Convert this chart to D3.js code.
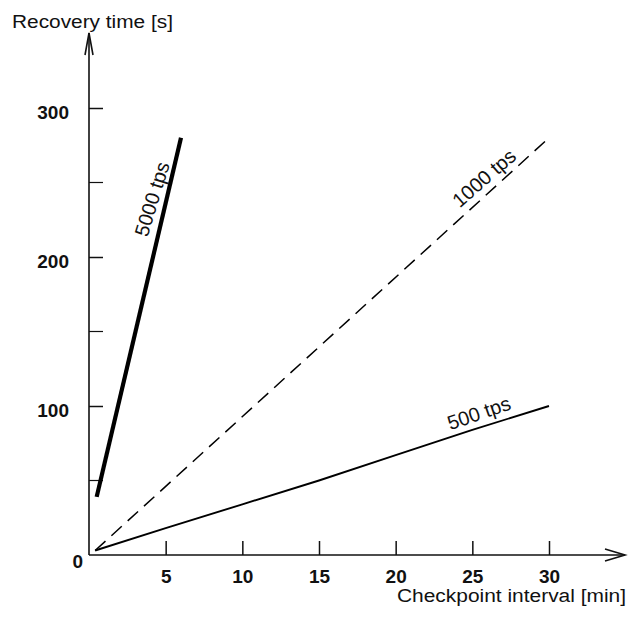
<!DOCTYPE html>
<html>
<head>
<meta charset="utf-8">
<script src="https://cdn.jsdelivr.net/npm/d3@7"></script>
<style>
  body { margin: 0; background: #fff; }
  svg { display: block; font-family: "Liberation Sans", Arial, sans-serif; }
  .tick text { font-weight: bold; fill: #111; font-family: "Liberation Sans", Arial, sans-serif; }
  .xaxis .tick text { font-size: 19px; }
  .yaxis .tick text { font-size: 19px; }
  .tick line { stroke: #111; stroke-width: 1.5; }
</style>
</head>
<body>
<div id="chart"></div>
<script>
// data
var xTickValues = [5, 10, 15, 20, 25, 30];
var yTickValues = [0, 100, 200, 300];
var yMinorTicks = [50, 150, 250];

var tps5000X = [0.5, 6];
var tps5000Y = [39, 280];

var tps1000X = [0.4, 30];
var tps1000Y = [3, 280];

var tps500X = [0.4, 5, 10, 15, 20, 25, 30];
var tps500Y = [3, 18, 34, 50, 67, 84, 100];

var seriesLabels = ["5000 tps", "1000 tps", "500 tps"];

var W = 631, H = 632;
var svg = d3.select("#chart").append("svg")
  .attr("width", W).attr("height", H);

var x = d3.scaleLinear().domain([0, 30]).range([89, 549]);
var y = d3.scaleLinear().domain([0, 300]).range([555, 108]);

// axes ticks (inward)
var xAxis = svg.append("g")
  .attr("class", "xaxis")
  .attr("transform", "translate(0," + y(0) + ")")
  .call(d3.axisBottom(x).tickValues(xTickValues).tickSize(-14).tickPadding(0));
xAxis.select(".domain").remove();
xAxis.selectAll(".tick text").attr("dy", null).attr("y", 28);

var yAxis = svg.append("g")
  .attr("class", "yaxis")
  .attr("transform", "translate(" + x(0) + ",0)")
  .call(d3.axisLeft(y).tickValues(yTickValues).tickSize(-14).tickPadding(20));
yAxis.select(".domain").remove();
yAxis.selectAll(".tick text").attr("dy", "0.55em");
// the "0" sits lower and closer to the axis
yAxis.selectAll(".tick").filter(function (d) { return d === 0; })
  .select("text").attr("x", -6).attr("dy", "0.65em");
yAxis.selectAll(".tick").filter(function (d) { return d === 0; })
  .select("line").remove();

svg.append("g").selectAll("line.minor")
  .data(yMinorTicks).enter().append("line")
  .attr("x1", x(0)).attr("x2", x(0) + 14)
  .attr("y1", function (d) { return y(d); })
  .attr("y2", function (d) { return y(d); })
  .attr("stroke", "#111").attr("stroke-width", 1.2);

// axis lines with open arrowheads
var ax = svg.append("g").attr("stroke", "#111").attr("fill", "none")
  .attr("stroke-width", 1.6);
ax.append("line").attr("x1", x(0)).attr("y1", y(0)).attr("x2", 625).attr("y2", y(0));
ax.append("line").attr("x1", x(0)).attr("y1", y(0)).attr("x2", x(0)).attr("y2", 33);
ax.append("path").attr("d", "M605," + (y(0) - 6) + " L625," + y(0) + " L605," + (y(0) + 6));
ax.append("path").attr("d", "M" + (x(0) - 4) + ",55 L" + x(0) + ",33 L" + (x(0) + 4) + ",55");

// series
var line = d3.line().x(function (d) { return x(d[0]); }).y(function (d) { return y(d[1]); });

svg.append("path")
  .datum(d3.zip(tps5000X, tps5000Y))
  .attr("d", line).attr("fill", "none")
  .attr("stroke", "#000").attr("stroke-width", 4.2);

svg.append("path")
  .datum(d3.zip(tps1000X, tps1000Y))
  .attr("d", line).attr("fill", "none")
  .attr("stroke", "#000").attr("stroke-width", 1.5)
  .attr("stroke-dasharray", "14,8");

svg.append("path")
  .datum(d3.zip(tps500X, tps500Y))
  .attr("d", line).attr("fill", "none")
  .attr("stroke", "#000").attr("stroke-width", 1.9);

// series labels along the lines
var labelPos = [[152, 199, -73], [484, 178, -41], [479, 413, -19]];
svg.append("g").selectAll("text")
  .data(seriesLabels).enter().append("text")
  .attr("transform", function (d, i) {
    return "translate(" + labelPos[i][0] + "," + labelPos[i][1] + ") rotate(" + labelPos[i][2] + ")";
  })
  .attr("text-anchor", "middle").attr("dy", "0.35em")
  .attr("font-size", 20).attr("fill", "#111")
  .text(function (d) { return d; });

// axis titles
svg.append("text")
  .attr("x", 12).attr("y", 28)
  .attr("font-size", 18).attr("fill", "#111")
  .attr("textLength", 161).attr("lengthAdjust", "spacingAndGlyphs")
  .text("Recovery time [s]");

svg.append("text")
  .attr("x", 397).attr("y", 602)
  .attr("font-size", 18).attr("fill", "#111")
  .attr("textLength", 229).attr("lengthAdjust", "spacingAndGlyphs")
  .text("Checkpoint interval [min]");
</script>
</body>
</html>
